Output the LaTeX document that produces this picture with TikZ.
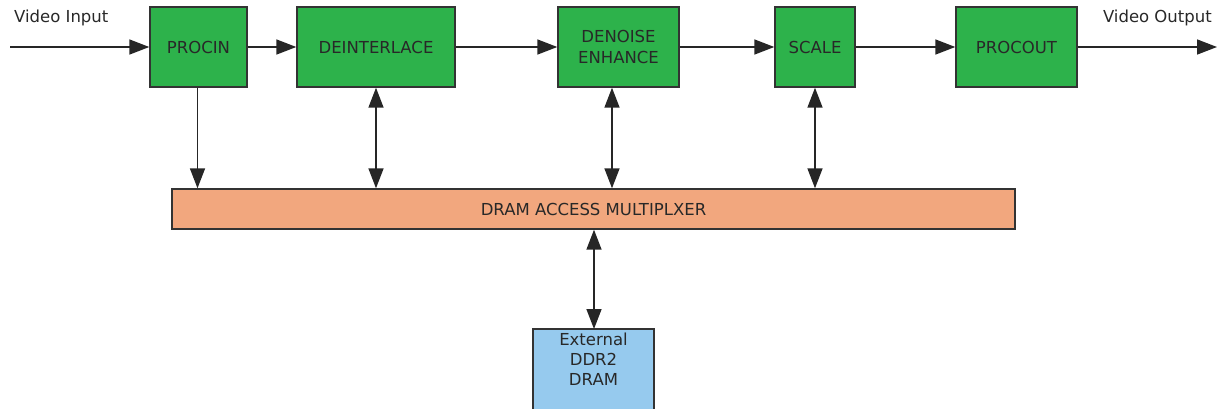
\documentclass[tikz,border=0pt]{standalone}
\usepackage{fontspec}
\setmainfont{DejaVu Sans}
\usetikzlibrary{arrows.meta}
\definecolor{blkgreen}{RGB}{45,178,75}
\definecolor{muxorange}{RGB}{242,167,126}
\definecolor{ddrblue}{RGB}{150,202,238}
\definecolor{txtgray}{RGB}{40,40,40}
\begin{document}
\begin{tikzpicture}[x=1pt,y=-1pt,
  blk/.style={draw=black!80,line width=1.4pt,fill=blkgreen,inner sep=0pt,font=\fontsize{16.5}{21}\selectfont,text=txtgray,align=center},
  conn/.style={line width=1.6pt,draw=black!85,-{Triangle[length=20pt,width=15pt]}},
  biconn/.style={line width=1.6pt,draw=black!85,{Triangle[length=20pt,width=15pt]}-{Triangle[length=20pt,width=15pt]}},
  lbl/.style={font=\fontsize{16.5}{20}\selectfont,text=txtgray}]
\useasboundingbox (0,0) rectangle (1224,408);
% blocks
\node[blk,minimum width=97pt,minimum height=80pt] (procin) at (198.5,47) {PROCIN};
\node[blk,minimum width=158pt,minimum height=80pt] (deint) at (376,47) {DEINTERLACE};
\node[blk,minimum width=121pt,minimum height=80pt] (denoise) at (618.5,47) {DENOISE\\ENHANCE};
\node[blk,minimum width=80pt,minimum height=80pt] (scale) at (815,47) {SCALE};
\node[blk,minimum width=121pt,minimum height=80pt] (procout) at (1016.5,47) {PROCOUT};
\node[draw=black!80,line width=1.4pt,fill=muxorange,minimum width=843pt,minimum height=40pt,inner sep=0pt,font=\fontsize{16.5}{20}\selectfont,text=txtgray] (mux) at (593.5,209) {DRAM ACCESS MULTIPLXER};
\draw[draw=black!80,line width=1.4pt,fill=ddrblue] (533,329) rectangle (654,412);
\node[inner sep=0pt,font=\fontsize{16.5}{20}\selectfont,text=txtgray,align=center,anchor=north] (ext) at (593.5,333) {External\\DDR2\\DRAM};
\coordinate (ddrtop) at (594,329);
% input / output
\coordinate (vin) at (10,47);
\coordinate (vout) at (1217,47);
\node[lbl,anchor=west,inner sep=0pt] (vinl) at (14,18) {Video Input};
\node[lbl,anchor=east,inner sep=0pt] (voutl) at (1212,18) {Video Output};
\draw[conn] (vin) -- (procin.west);
\draw[conn] (procin.east) -- (deint.west);
\draw[conn] (deint.east) -- (denoise.west);
\draw[conn] (denoise.east) -- (scale.west);
\draw[conn] (scale.east) -- (procout.west);
\draw[conn] (procout.east) -- (vout);
% verticals
\draw[conn] ([xshift=-1pt]procin.south) -- ([xshift=-1pt]procin.south |- mux.north);
\draw[biconn] (deint.south) -- (deint.south |- mux.north);
\draw[biconn] ([xshift=-6.5pt]denoise.south) -- ([xshift=-6.5pt]denoise.south |- mux.north);
\draw[biconn] (scale.south) -- (scale.south |- mux.north);
\draw[biconn] (ddrtop |- mux.south) -- (ddrtop);
\end{tikzpicture}
\end{document}
